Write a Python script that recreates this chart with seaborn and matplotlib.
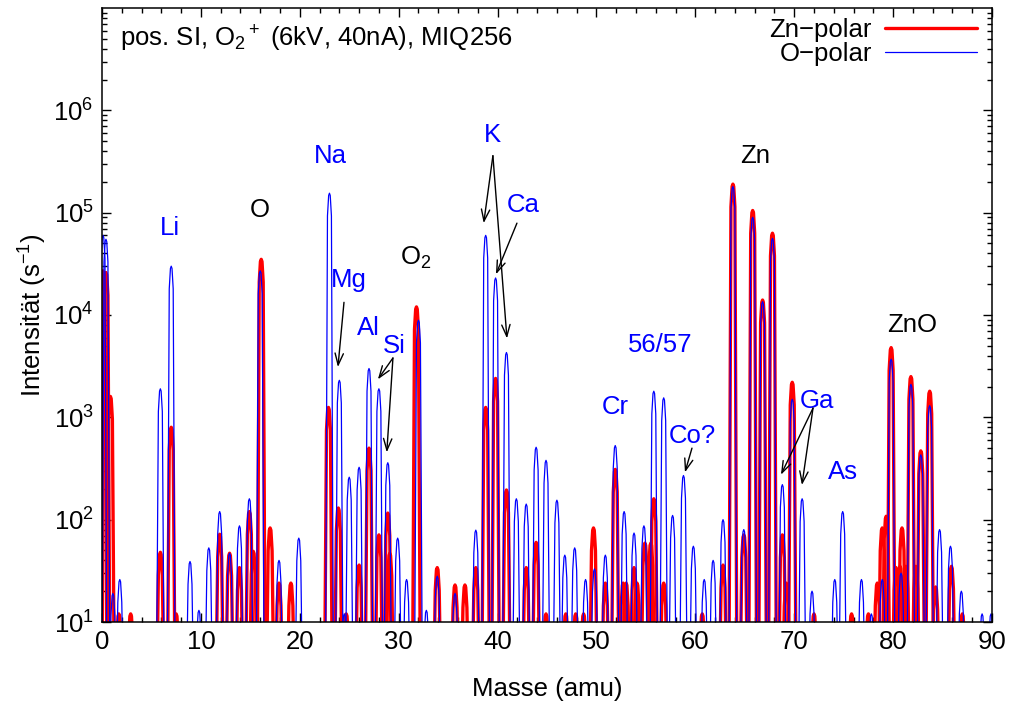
import numpy as np
import pandas as pd
import matplotlib
matplotlib.use("Agg")
import matplotlib.pyplot as plt
from matplotlib.lines import Line2D
from matplotlib.ticker import MultipleLocator, FixedLocator, LogLocator, NullFormatter
import seaborn as sns

# Secondary-ion mass spectrum, peak positions (amu) and count rates (1/s)
zn_mass = [0.1, 0.4, 0.85, 1.7, 2.9, 5.9, 7.0, 7.5, 11.9, 12.9, 13.9, 14.9, 15.3,
           16.1, 17.0, 17.9, 19.1, 22.9, 23.9, 24.7, 26.0, 27.0, 28.0, 28.9, 29.1,
           31.8, 33.9, 35.7, 36.7, 37.8, 38.8, 39.8, 40.9, 42.9, 43.9, 44.9, 46.9,
           47.9, 48.7, 49.7, 50.9, 51.9, 52.7, 53.0, 53.8, 54.1, 54.9, 55.5, 55.8,
           56.8, 60.7, 62.8, 63.8, 64.9, 65.8, 66.8, 67.8, 68.8, 69.2, 69.8, 72.0,
           75.8, 77.5, 78.4, 78.9, 79.3, 79.8, 80.3, 80.7, 80.9, 81.3, 81.8, 82.3,
           82.8, 83.7, 84.3, 85.9, 87.0]
zn_counts = [2.7e4, 2.6e4, 1.6e3, 12, 12, 48, 800, 12, 72, 47, 34, 120, 49,
             3.5e4, 83, 24, 24, 1.25e3, 130, 12, 36, 500, 71, 116, 47,
             1.2e4, 34, 23, 23, 34, 1.25e3, 2.4e3, 195, 34, 60, 12, 12,
             12, 12, 83, 24, 310, 24, 24, 34, 24, 59, 59, 160,
             24, 12, 36, 1.9e5, 71, 1.05e5, 1.4e4, 6.3e4, 71, 24, 2.2e3, 12,
             12, 12, 24, 83, 108, 4.8e3, 34, 35, 83, 35, 2.5e3, 35,
             470, 1.8e3, 22, 35, 12]

o_mass = [0.1, 0.4, 1.1, 1.8, 5.9, 7.0, 8.9, 9.8, 10.8, 11.9, 12.9, 13.9, 14.9,
          16.0, 17.9, 19.9, 23.0, 24.0, 24.5, 25.0, 26.0, 27.0, 28.0, 28.9, 29.9,
          30.8, 32.0, 32.8, 33.9, 35.7, 37.8, 38.8, 39.8, 40.9, 41.9, 42.9, 43.9,
          44.9, 46.0, 46.8, 47.8, 48.9, 49.8, 50.9, 51.9, 52.8, 53.8, 54.8, 55.8,
          56.8, 57.7, 58.8, 59.8, 60.9, 61.8, 62.8, 63.8, 64.9, 65.8, 66.8, 67.8,
          68.8, 69.8, 70.8, 71.8, 74.1, 74.9, 76.8, 77.8, 78.9, 79.8, 80.8, 81.8,
          82.8, 83.7, 84.7, 85.8, 86.9, 89.0, 89.9]
o_counts = [6.0e4, 5.5e4, 19, 26, 1.9e3, 3.0e4, 39, 13, 53, 120, 47, 87, 160,
            2.7e4, 40, 66, 1.55e5, 2.3e3, 12, 260, 325, 3.0e3, 1.9e3, 360, 66,
            26, 8.9e3, 13, 28, 19, 79, 6.0e4, 2.3e4, 4.3e3, 160, 142, 510,
            380, 155, 45, 53, 26, 33, 45, 530, 120, 74, 87, 1.8e3,
            1.55e3, 110, 270, 55, 26, 40, 100, 1.8e5, 80, 9.0e4, 1.35e4, 5.6e4,
            220, 1.5e3, 160, 20, 26, 120, 26, 12, 26, 3.7e3, 30, 2.1e3,
            430, 1.3e3, 80, 55, 20, 12, 12]

surfaces = ["Zn\u2212polar", "O\u2212polar"]
colors = {"Zn\u2212polar": "#ff0000", "O\u2212polar": "#0000ff"}
widths = {"Zn\u2212polar": 2.4, "O\u2212polar": 0.9}

# Outline used to draw every peak: offset in amu and fraction of the peak height
PEAK_DX = [-0.42, -0.2, -0.08, 0.0, 0.08, 0.2, 0.42]
PEAK_FRAC = [0.0, 0.6, 0.95, 1.0, 0.95, 0.6, 0.0]
FLOOR = 1.0


def peak_table(masses, counts, surface):
    rows = []
    for i, (m, c) in enumerate(zip(masses, counts)):
        for dx, f in zip(PEAK_DX, PEAK_FRAC):
            rows.append((f"{surface}-{i}", m + dx, max(c * f, FLOOR), surface))
    return pd.DataFrame(rows, columns=["peak", "mass", "counts", "surface"])


df = pd.concat([peak_table(zn_mass, zn_counts, surfaces[0]),
                peak_table(o_mass, o_counts, surfaces[1])], ignore_index=True)

sns.set_theme(style="ticks")
plt.rcParams["font.family"] = ["Liberation Sans", "DejaVu Sans"]
plt.rcParams["mathtext.fontset"] = "custom"
plt.rcParams["mathtext.rm"] = "Liberation Sans"
plt.rcParams["mathtext.it"] = "Liberation Sans:italic"
plt.rcParams["mathtext.bf"] = "Liberation Sans:bold"
plt.rcParams["text.color"] = "black"
plt.rcParams["axes.labelcolor"] = "black"
plt.rcParams["xtick.color"] = "black"
plt.rcParams["ytick.color"] = "black"

FS = 18.5
fig = plt.figure(figsize=(10.13, 7.06), dpi=100)
ax = fig.add_axes([102 / 1013, 84 / 706, 890 / 1013, 614 / 706])
ax.set_yscale("log")

for s in surfaces:
    sns.lineplot(data=df[df["surface"] == s], x="mass", y="counts", units="peak",
                 estimator=None, sort=False, color=colors[s], lw=widths[s],
                 legend=False, ax=ax)

ax.set_xlim(0, 90)
ax.set_ylim(10, 1e7)
ax.xaxis.set_major_locator(MultipleLocator(10))
ax.xaxis.set_minor_locator(MultipleLocator(2))
ax.yaxis.set_major_locator(FixedLocator([1e1, 1e2, 1e3, 1e4, 1e5, 1e6]))
ax.yaxis.set_minor_locator(LogLocator(base=10, subs=np.arange(2, 10), numticks=100))
ax.yaxis.set_minor_formatter(NullFormatter())
ax.tick_params(which="both", direction="in", top=True, right=True,
               labelsize=FS, colors="black")
ax.tick_params(which="major", length=6.5, width=1.0, pad=6)
ax.tick_params(which="minor", length=3.5, width=1.0)
for sp in ax.spines.values():
    sp.set_linewidth(1.1)
    sp.set_color("black")

ax.set_xlabel("Masse (amu)", fontsize=FS, labelpad=16)
ax.set_ylabel("Intensit\u00e4t (s$^{-1}$)", fontsize=FS, labelpad=3)

ax.text(0.02, 0.949, "pos. SI, O$_2{}^+$ (6kV, 40nA), MIQ256", transform=ax.transAxes,
        ha="left", va="center", fontsize=FS)

# Element labels
blue_labels = [("Li", 6.9, 7.1e4), ("Na", 23.05, 3.6e5), ("Mg", 25.0, 2.2e4),
               ("Al", 26.9, 7.4e3), ("Si", 29.6, 5.0e3), ("K", 39.5, 5.7e5),
               ("Ca", 42.6, 1.2e5), ("56/57", 56.4, 5.1e3), ("Cr", 51.9, 1.26e3),
               ("Co?", 59.7, 660), ("Ga", 72.3, 1.45e3), ("As", 74.9, 290)]
black_labels = [("O", 16.0, 1.05e5), ("O$_2$", 31.75, 3.6e4), ("Zn", 66.0, 3.6e5),
                ("ZnO", 81.9, 7.9e3)]
for txt, x, y in blue_labels:
    ax.text(x, y, txt, color="#0000ff", ha="center", va="center", fontsize=FS)
for txt, x, y in black_labels:
    ax.text(x, y, txt, color="black", ha="center", va="center", fontsize=FS)

# Arrows from labels to peaks: (tail, head)
arrows = [((24.47, 1.33e4), (23.86, 3.1e3)),
          ((29.42, 3.8e3), (27.9, 2.35e3)),
          ((29.42, 3.8e3), (28.8, 455)),
          ((39.53, 3.6e5), (38.6, 7.9e4)),
          ((39.53, 3.6e5), (40.95, 5.9e3)),
          ((41.96, 7.9e4), (39.84, 2.5e4)),
          ((59.66, 500), (58.95, 290)),
          ((71.9, 1.23e3), (68.66, 275)),
          ((71.9, 1.23e3), (70.78, 218))]
for tail, head in arrows:
    ax.annotate("", xy=head, xytext=tail,
                arrowprops=dict(arrowstyle="->,head_length=0.7,head_width=0.25",
                                color="black", lw=1.0, shrinkA=0, shrinkB=0))

handles = [Line2D([], [], color=colors[s], lw=widths[s]) for s in surfaces]
ax.legend(handles, surfaces, loc="upper right", frameon=False, markerfirst=False,
          fontsize=FS, handlelength=3.6, labelspacing=0.0, handletextpad=0.5,
          borderaxespad=0.1, borderpad=0.3, bbox_to_anchor=(0.995, 1.0))

fig.savefig("out.png", dpi=100)
